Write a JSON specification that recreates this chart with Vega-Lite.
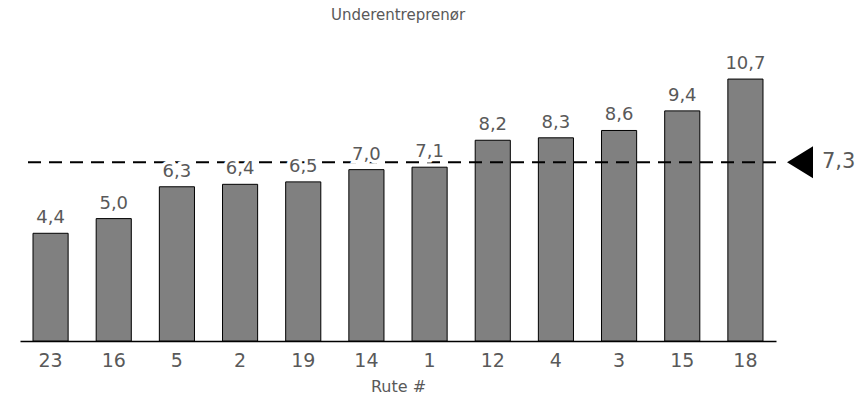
{
  "$schema": "https://vega.github.io/schema/vega-lite/v6.json",
  "width": 756,
  "height": 306,
  "autosize": {"type": "none"},
  "padding": {"left": 20, "top": 35, "right": 92, "bottom": 54},
  "background": "white",
  "config": {
    "view": {"stroke": null},
    "font": "DejaVu Sans",
    "locale": {"number": {"decimal": ",", "thousands": ".", "grouping": [3], "currency": ["", " kr"]}}
  },
  "title": {
    "text": "Underentreprenør",
    "font": "DejaVu Sans",
    "fontSize": 15,
    "fontWeight": "normal",
    "color": "#595959",
    "anchor": "middle",
    "baseline": "alphabetic",
    "offset": 0
  },
  "data": {
    "values": [
      {"rute": "23", "value": 4.4},
      {"rute": "16", "value": 5.0},
      {"rute": "5", "value": 6.3},
      {"rute": "2", "value": 6.4},
      {"rute": "19", "value": 6.5},
      {"rute": "14", "value": 7.0},
      {"rute": "1", "value": 7.1},
      {"rute": "12", "value": 8.2},
      {"rute": "4", "value": 8.3},
      {"rute": "3", "value": 8.6},
      {"rute": "15", "value": 9.4},
      {"rute": "18", "value": 10.7}
    ]
  },
  "layer": [
    {
      "mark": {"type": "bar", "fill": "#808080", "stroke": "#000000", "strokeWidth": 1},
      "encoding": {
        "x": {
          "field": "rute",
          "type": "nominal",
          "sort": null,
          "scale": {"paddingInner": 0.444, "paddingOuter": 0.206},
          "axis": {
            "title": "Rute #",
            "titleFont": "DejaVu Sans",
            "titleFontSize": 16,
            "titleFontWeight": "normal",
            "titleColor": "#595959",
            "titlePadding": 8,
            "labelAngle": 0,
            "labelFont": "DejaVu Sans",
            "labelFontSize": 19,
            "labelColor": "#595959",
            "labelPadding": 10,
            "ticks": false,
            "domainColor": "#000000",
            "domainWidth": 1.5
          }
        },
        "y": {
          "field": "value",
          "type": "quantitative",
          "scale": {"domain": [0, 12.5], "nice": false},
          "axis": null
        }
      }
    },
    {
      "data": {"values": [{"avg": 7.3}]},
      "mark": {"type": "rule", "stroke": "#000000", "strokeWidth": 2, "strokeDash": [13, 8]},
      "encoding": {"y": {"field": "avg", "type": "quantitative"}}
    },
    {
      "mark": {"type": "text", "baseline": "alphabetic", "dy": -10, "fontSize": 18, "fill": "#ffffff", "stroke": "#ffffff", "strokeWidth": 7},
      "encoding": {
        "x": {"field": "rute", "type": "nominal", "sort": null},
        "y": {"field": "value", "type": "quantitative"},
        "text": {"field": "value", "type": "quantitative", "format": ".1f"}
      }
    },
    {
      "mark": {"type": "text", "baseline": "alphabetic", "dy": -10, "fontSize": 18, "color": "#595959"},
      "encoding": {
        "x": {"field": "rute", "type": "nominal", "sort": null},
        "y": {"field": "value", "type": "quantitative"},
        "text": {"field": "value", "type": "quantitative", "format": ".1f"}
      }
    },
    {
      "data": {"values": [{"avg": 7.3}]},
      "layer": [
        {
          "mark": {"type": "point", "shape": "M1,-1.23L-1,0L1,1.23Z", "size": 676, "filled": true, "fill": "#000000", "stroke": null, "opacity": 1, "xOffset": 24},
          "encoding": {
            "x": {"value": "width"},
            "y": {"field": "avg", "type": "quantitative"}
          }
        },
        {
          "mark": {"type": "text", "align": "left", "baseline": "middle", "dx": 46, "fontSize": 21, "color": "#595959"},
          "encoding": {
            "x": {"value": "width"},
            "y": {"field": "avg", "type": "quantitative"},
            "text": {"field": "avg", "type": "quantitative", "format": ".1f"}
          }
        }
      ]
    }
  ]
}
